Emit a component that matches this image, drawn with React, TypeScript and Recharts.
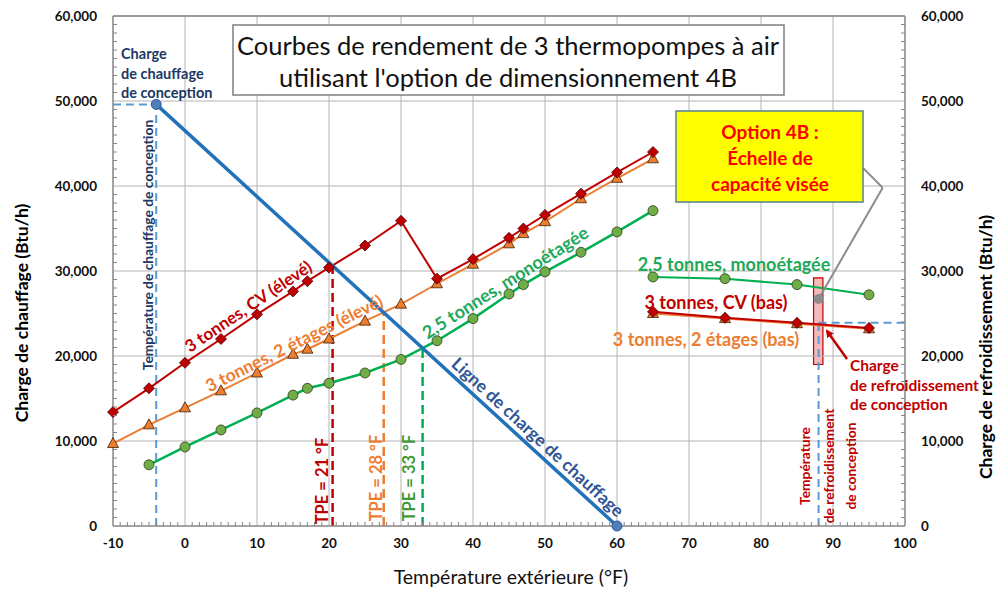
import React from "react";
import {
  LineChart,
  Line,
  XAxis,
  YAxis,
  ReferenceLine,
  ReferenceArea,
  ReferenceDot,
} from "recharts";

const FONT = "Lato, 'Open Sans', sans-serif";

// heating side, outdoor temperature (°F) -> capacity (Btu/h)
const heatTemps = [-10, -5, 0, 5, 10, 15, 17, 20, 25, 30, 35, 40, 45, 47, 50, 55, 60, 65];
const cvHigh = [13400, 16200, 19200, 22000, 24900, 27600, 28800, 30400, 33000, 35900, 29100, 31400, 33900, 35000, 36600, 39100, 41600, 44000];
const twoStageHigh = [9700, 11900, 13900, 15900, 18000, 20200, 20800, 22000, 24100, 26100, 28500, 30800, 33200, 34400, 35800, 38500, 40900, 43200];
const singleTemps = [-5, 0, 5, 10, 15, 17, 20, 25, 30, 35, 40, 45, 47, 50, 55, 60, 65];
const singleHigh = [7200, 9300, 11300, 13300, 15400, 16200, 16800, 18000, 19600, 21800, 24400, 27300, 28400, 29900, 32200, 34600, 37100];

// cooling side
const coolTemps = [65, 75, 85, 95];
const singleLow = [29300, 29100, 28400, 27200];
const cvLow = [25200, 24500, 23900, 23300];
const twoStageLow = [25000, 24400, 23800, 23200];

// heating load line and design points
const loadTemps = [-4, 60];
const loadValues = [49600, 0];
const heatDesign = { t: -4, load: 49600 };
const coolDesign = { t: 88, load: 23900 };
const targetPoint = { t: 88, load: 26700 };
const targetBand = { t1: 87.3, t2: 88.6, low: 19000, high: 29200 };

// balance points (TPE)
const tpeLines = [
  { t: 20.5, load: 30600, color: "#c00000" },
  { t: 27.6, load: 25100, color: "#ed7d31" },
  { t: 33, load: 20900, color: "#00b050" },
];

const xMajor = [-10, 0, 10, 20, 30, 40, 50, 60, 70, 80, 90, 100];
const yMajor = [0, 10000, 20000, 30000, 40000, 50000, 60000];
const xTicks = Array.from({ length: 111 }, (_, i) => i - 10);
const yTicks = Array.from({ length: 61 }, (_, i) => i * 1000);

const zip = (xs: number[], ys: number[]) => xs.map((x, i) => ({ x, y: ys[i] }));

const RED = "#c00000";
const ORANGE = "#ed7d31";
const GREEN = "#00b050";
const NAVY = "#203864";
const BLUE = "#2272b9";
const DASHBLUE = "#5b9bd5";
const AXIS = "#868686";
const GRID = "#b4b4b4";

function Diamond(p: any) {
  const { cx, cy } = p;
  if (cx == null || cy == null) return <g />;
  const s = 5.5;
  return (
    <path
      d={`M${cx},${cy - s}L${cx + s},${cy}L${cx},${cy + s}L${cx - s},${cy}Z`}
      fill={RED}
      stroke="#4a0000"
      strokeWidth={0.8}
    />
  );
}

function Triangle(p: any) {
  const { cx, cy } = p;
  if (cx == null || cy == null) return <g />;
  return (
    <path
      d={`M${cx},${cy - 6}L${cx + 5.5},${cy + 4}L${cx - 5.5},${cy + 4}Z`}
      fill={ORANGE}
      stroke="#3d2000"
      strokeWidth={0.8}
    />
  );
}

function Circle(p: any) {
  const { cx, cy } = p;
  if (cx == null || cy == null) return <g />;
  return <circle cx={cx} cy={cy} r={5} fill="#70ad47" stroke="#2b3d1d" strokeWidth={0.8} />;
}

function BlueDot(p: any) {
  const { cx, cy } = p;
  if (cx == null || cy == null) return <g />;
  return <circle cx={cx} cy={cy} r={5} fill="#4f7fb8" stroke="#2f5597" strokeWidth={1} />;
}

function XTick(p: any) {
  const { x, y, payload } = p;
  const v = payload.value;
  const major = v % 10 === 0;
  return (
    <g>
      {!major && <line x1={x} x2={x} y1={y} y2={y - 4} stroke={AXIS} strokeWidth={1} />}
      {major && (
        <text x={x} y={y + 22} textAnchor="middle" fontFamily={FONT} fontWeight={700} fontSize={13.5} fill="#111">
          {v}
        </text>
      )}
    </g>
  );
}

function YTick(p: any, side: "left" | "right") {
  const { x, y, payload } = p;
  const v = payload.value;
  const major = v % 10000 === 0;
  const dir = side === "left" ? 1 : -1;
  return (
    <g>
      {!major && <line x1={x} x2={x + dir * 4} y1={y} y2={y} stroke={AXIS} strokeWidth={1} />}
      {major && (
        <text
          x={side === "left" ? x - 16 : x + 16}
          y={y}
          dy="0.35em"
          textAnchor={side === "left" ? "end" : "start"}
          fontFamily={FONT}
          fontWeight={700}
          fontSize={13.5}
          fill="#111"
        >
          {v.toLocaleString("en-US")}
        </text>
      )}
    </g>
  );
}

function Txt({
  x,
  y,
  rot = 0,
  size = 15,
  color = "#000",
  weight = 700,
  anchor = "middle",
  children,
}: any) {
  return (
    <text
      x={x}
      y={y}
      transform={rot ? `rotate(${rot} ${x} ${y})` : undefined}
      textAnchor={anchor}
      dominantBaseline="central"
      fontFamily={FONT}
      fontWeight={weight}
      fontSize={size}
      fill={color}
    >
      {children}
    </text>
  );
}

function Overlay() {
  return (
    <svg width={999} height={590} style={{ position: "absolute", left: 0, top: 0, pointerEvents: "none" }}>
      <defs>
        <marker id="arrowRed" markerWidth="8" markerHeight="8" refX="6" refY="4" orient="auto" markerUnits="userSpaceOnUse">
          <path d="M0,0 L8,4 L0,8 Z" fill={RED} />
        </marker>
      </defs>

      {/* title */}
      <rect x={233} y={25} width={551} height={70} fill="#fff" stroke="#7f7f7f" strokeWidth={1.5} />
      <Txt x={508} y={45} size={25.5} weight={400} color="#111">Courbes de rendement de 3 thermopompes à air</Txt>
      <Txt x={508} y={77} size={25.5} weight={400} color="#111">utilisant l'option de dimensionnement 4B</Txt>

      {/* target capacity callout */}
      <rect x={676} y={111} width={187} height={91} fill="#ffff00" stroke="#56808f" strokeWidth={1.5} />
      <Txt x={770} y={131} size={19} color="#ff0000">Option 4B :</Txt>
      <Txt x={770} y={157} size={19} color="#ff0000">Échelle de</Txt>
      <Txt x={770} y={183} size={19} color="#ff0000">capacité visée</Txt>

      {/* axis titles */}
      <Txt x={21} y={313} rot={-90} size={17.5} color="#000">Charge de chauffage (Btu/h)</Txt>
      <Txt x={985} y={347} rot={-90} size={17.5} color="#000">Charge de refroidissement (Btu/h)</Txt>
      <Txt x={511} y={576} size={19.5} weight={400} color="#111">Température extérieure (°F)</Txt>

      {/* design heating annotations */}
      <Txt x={121} y={53} size={14.5} color={NAVY} anchor="start">Charge</Txt>
      <Txt x={121} y={73} size={14.5} color={NAVY} anchor="start">de chauffage</Txt>
      <Txt x={121} y={92} size={14.5} color={NAVY} anchor="start">de conception</Txt>
      <Txt x={147} y={245} rot={-90} size={13.8} color={NAVY}>Température de chauffage de conception</Txt>

      {/* series labels, heating */}
      <Txt x={248} y={306} rot={-34} size={17} color={RED}>3 tonnes, CV (élevé)</Txt>
      <Txt x={294} y={343} rot={-26.5} size={17.5} color={ORANGE}>3 tonnes, 2 étages (élevé)</Txt>
      <Txt x={505} y={282} rot={-32.5} size={18} color="#1ea85a">2,5 tonnes, monoétagée</Txt>
      <Txt x={538} y={437} rot={42.5} size={17.5} color="#2f5597">Ligne de charge de chauffage</Txt>

      {/* balance points */}
      <Txt x={322} y={481} rot={-90} size={16.5} color={RED}>TPE = 21 °F</Txt>
      <Txt x={376} y={478} rot={-90} size={16.5} color={ORANGE}>TPE = 28 °F</Txt>
      <Txt x={409} y={478} rot={-90} size={16.5} color="#3f9a38">TPE = 33 °F</Txt>

      {/* series labels, cooling */}
      <Txt x={734} y={264} size={18} color="#1ea85a">2,5 tonnes, monoétagée</Txt>
      <Txt x={716} y={302} size={18} color={RED}>3 tonnes, CV (bas)</Txt>
      <Txt x={706} y={339} size={18} color={ORANGE}>3 tonnes, 2 étages (bas)</Txt>

      {/* design cooling annotations */}
      <line x1={847} y1={359} x2={827} y2={331} stroke={RED} strokeWidth={2.5} markerEnd="url(#arrowRed)" />
      <Txt x={850} y={365} size={15.5} color={RED} anchor="start">Charge</Txt>
      <Txt x={850} y={385} size={15.5} color={RED} anchor="start">de refroidissement</Txt>
      <Txt x={850} y={404} size={15.5} color={RED} anchor="start">de conception</Txt>
      <Txt x={804} y={466} rot={-90} size={13.8} color={RED}>Température</Txt>
      <Txt x={828} y={466} rot={-90} size={13.8} color={RED}>de refroidissement</Txt>
      <Txt x={850} y={466} rot={-90} size={13.8} color={RED}>de conception</Txt>
    </svg>
  );
}

export default function App() {
  return (
    <div style={{ position: "absolute", left: 0, top: 0, width: 999, height: 590, background: "#fff" }}>
      <LineChart width={999} height={590} margin={{ top: 16, right: 0, bottom: 0, left: 0 }}>
        <XAxis
          dataKey="x"
          type="number"
          domain={[-10, 100]}
          ticks={xTicks}
          interval={0}
          tickSize={0}
          tickMargin={0}
          tick={(p: any) => <XTick {...p} />}
          height={64}
          axisLine={{ stroke: AXIS, strokeWidth: 1.5 }}
          tickLine={false}
        />
        <YAxis
          yAxisId="l"
          type="number"
          domain={[0, 60000]}
          ticks={yTicks}
          interval={0}
          width={113}
          tickSize={0}
          tickMargin={0}
          tick={(p: any) => YTick(p, "left")}
          axisLine={{ stroke: AXIS, strokeWidth: 1.5 }}
          tickLine={false}
        />
        <YAxis
          yAxisId="r"
          orientation="right"
          type="number"
          domain={[0, 60000]}
          ticks={yTicks}
          interval={0}
          width={94}
          tickSize={0}
          tickMargin={0}
          tick={(p: any) => YTick(p, "right")}
          axisLine={{ stroke: AXIS, strokeWidth: 1.5 }}
          tickLine={false}
        />

        {/* grid */}
        {xMajor.slice(1, -1).map((v) => (
          <ReferenceLine key={`gx${v}`} yAxisId="l" x={v} stroke={GRID} strokeWidth={1} />
        ))}
        {yMajor.slice(1).map((v) => (
          <ReferenceLine key={`gy${v}`} yAxisId="l" y={v} stroke={GRID} strokeWidth={1} />
        ))}

        {/* design temperature guides */}
        <ReferenceLine
          yAxisId="l"
          segment={[{ x: -10, y: heatDesign.load }, { x: heatDesign.t, y: heatDesign.load }]}
          stroke={DASHBLUE}
          strokeWidth={2}
          strokeDasharray="8 5"
        />
        <ReferenceLine
          yAxisId="l"
          segment={[{ x: heatDesign.t, y: 0 }, { x: heatDesign.t, y: heatDesign.load }]}
          stroke={DASHBLUE}
          strokeWidth={2}
          strokeDasharray="8 5"
        />
        <ReferenceLine
          yAxisId="r"
          segment={[{ x: coolDesign.t, y: 0 }, { x: coolDesign.t, y: coolDesign.load }]}
          stroke={DASHBLUE}
          strokeWidth={2}
          strokeDasharray="8 5"
        />
        <ReferenceLine
          yAxisId="r"
          segment={[{ x: coolDesign.t, y: coolDesign.load }, { x: 100, y: coolDesign.load }]}
          stroke={DASHBLUE}
          strokeWidth={2}
          strokeDasharray="8 5"
        />
        {tpeLines.map((b) => (
          <ReferenceLine
            key={`tpe${b.t}`}
            yAxisId="l"
            segment={[{ x: b.t, y: 0 }, { x: b.t, y: b.load }]}
            stroke={b.color}
            strokeWidth={2.5}
            strokeDasharray="9 5"
          />
        ))}

        {/* heating curves */}
        <Line yAxisId="l" data={zip(heatTemps, twoStageHigh)} dataKey="y" stroke={ORANGE} strokeWidth={2} dot={Triangle} isAnimationActive={false} />
        <Line yAxisId="l" data={zip(heatTemps, cvHigh)} dataKey="y" stroke={RED} strokeWidth={2} dot={Diamond} isAnimationActive={false} />
        <Line yAxisId="l" data={zip(singleTemps, singleHigh)} dataKey="y" stroke={GREEN} strokeWidth={2.5} dot={Circle} isAnimationActive={false} />
        <Line yAxisId="l" data={zip(loadTemps, loadValues)} dataKey="y" stroke={BLUE} strokeWidth={3.5} dot={BlueDot} isAnimationActive={false} />

        {/* cooling curves */}
        <Line yAxisId="r" data={zip(coolTemps, singleLow)} dataKey="y" stroke={GREEN} strokeWidth={2} dot={Circle} isAnimationActive={false} />
        <Line yAxisId="r" data={zip(coolTemps, twoStageLow)} dataKey="y" stroke={ORANGE} strokeWidth={2} dot={Triangle} isAnimationActive={false} />
        <Line yAxisId="r" data={zip(coolTemps, cvLow)} dataKey="y" stroke={RED} strokeWidth={2} dot={Diamond} isAnimationActive={false} />

        {/* target capacity band and callout */}
        <ReferenceArea
          yAxisId="r"
          x1={targetBand.t1}
          x2={targetBand.t2}
          y1={targetBand.low}
          y2={targetBand.high}
          fill="#f08a8a"
          fillOpacity={0.6}
          stroke={RED}
          strokeWidth={1.2}
        />
        <ReferenceLine
          yAxisId="r"
          segment={[{ x: 94.2, y: 42100 }, { x: 96.9, y: 39800 }]}
          stroke="#8c8c8c"
          strokeWidth={2}
        />
        <ReferenceLine
          yAxisId="r"
          segment={[{ x: 96.9, y: 39800 }, { x: targetPoint.t, y: targetPoint.load }]}
          stroke="#8c8c8c"
          strokeWidth={2}
        />
        <ReferenceDot yAxisId="r" x={targetPoint.t} y={targetPoint.load} r={5} fill="#8c8c8c" stroke="none" />
        <ReferenceLine yAxisId="l" y={60000} stroke={AXIS} strokeWidth={1.5} />
      </LineChart>
      <Overlay />
    </div>
  );
}
